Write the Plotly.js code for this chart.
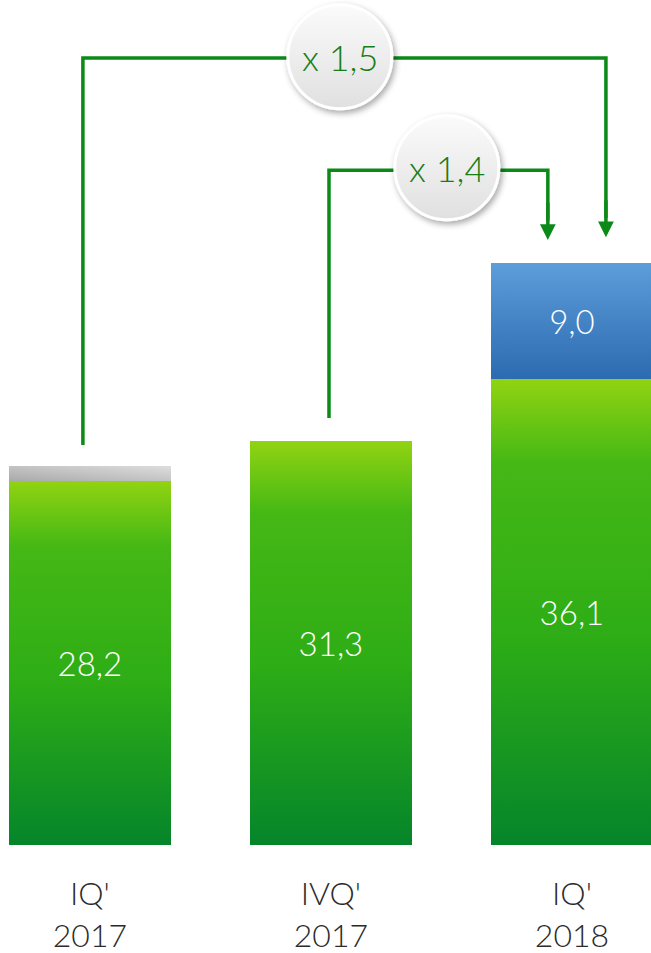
<!DOCTYPE html>
<html>
<head>
<meta charset="utf-8">
<script src="https://cdn.plot.ly/plotly-3.0.1.min.js"></script>
<style>
  html, body { margin: 0; padding: 0; background: #ffffff; }
  #chart { width: 651px; height: 953px; }
</style>
</head>
<body>
<div id="chart"></div>
<script>
// ---------- data ----------
const quarters = ["IQ'", "IVQ'", "IQ'"];
const years = ["2017", "2017", "2018"];
const barIndex = [0, 1, 2];
const baseValues = [28.2, 31.3, 36.1];      // green
const capValues = [1.2, null, null];         // grey cap (unlabelled)
const newValues = [null, null, 9.0];         // blue
const multiplierLabels = ["x 1,5", "x 1,4"];

// ---------- styling / layout ----------
const FONT = "Lato, 'Open Sans', sans-serif";
const LINE_GREEN = "#0b8a18";
const TEXT_GREEN = "#187d16";

const tickText = quarters.map((q, i) => q + "<br>" + years[i]);
const totals = barIndex.map(i => (baseValues[i] || 0) + (capValues[i] || 0) + (newValues[i] || 0));

const data = [
  {
    type: "bar", x: barIndex, y: baseValues, width: 0.672,
    marker: { color: "#34b016", line: { width: 0 } },
    texttemplate: "%{y:.1f}", textposition: "inside", insidetextanchor: "middle",
    textangle: 0, constraintext: "none",
    textfont: { family: FONT, size: 33, color: "#ffffff", weight: 300 },
    hoverinfo: "skip"
  },
  {
    type: "bar", x: barIndex, y: capValues, width: 0.672,
    marker: { color: "#c4c4c4", line: { width: 0 } },
    hoverinfo: "skip"
  },
  {
    type: "bar", x: barIndex, y: newValues, width: 0.672,
    marker: { color: "#4584c6", line: { width: 0 } },
    texttemplate: "%{y:.1f}", textposition: "inside", insidetextanchor: "middle",
    textangle: 0, constraintext: "none",
    textfont: { family: FONT, size: 33, color: "#ffffff", weight: 300 },
    hoverinfo: "skip"
  }
];

// connector geometry (layout positions, relative to bars)
const c1 = { x0: 0 - 0.029, x1: 2 + 0.141, yTop: 61.0, yStart: totals[0] + 1.6, yTip: totals[2] + 2.0 };
const c2 = { x0: 1 - 0.008, x1: 2 - 0.100, yTop: 52.3, yStart: totals[1] + 1.8, yTip: totals[2] + 1.8 };
const bubble1 = { x: 1.037, y: 61.1 };
const bubble2 = { x: 1.481, y: 52.5 };
const R = 52;

function connectorPath(c) {
  return "M" + c.x0 + "," + c.yStart + " L" + c.x0 + "," + c.yTop + " L" + c.x1 + "," + c.yTop + " L" + c.x1 + "," + (c.yTip + 1.5);
}
function bubble(b) {
  return { type: "circle", xref: "x", yref: "y", xsizemode: "pixel", ysizemode: "pixel",
    xanchor: b.x, yanchor: b.y, x0: -R, x1: R, y0: -R, y1: R,
    fillcolor: "#f0f0f0", line: { color: "#ffffff", width: 3 }, layer: "above" };
}
function arrow(c) {
  return { x: c.x1, y: c.yTip, ax: c.x1, ay: c.yTip + 3, xref: "x", yref: "y", axref: "x", ayref: "y",
    text: "", showarrow: true, arrowhead: 2, arrowsize: 0.9, arrowwidth: 3.5, arrowcolor: LINE_GREEN, standoff: 0 };
}
function bubbleText(b, t) {
  return { x: b.x, y: b.y, xref: "x", yref: "y", text: t, showarrow: false,
    font: { family: FONT, size: 36, color: TEXT_GREEN, weight: 300 }, xanchor: "center", yanchor: "middle" };
}

const layout = {
  width: 651, height: 953,
  margin: { l: 0, r: 0, t: 0, b: 108, pad: 0 },
  paper_bgcolor: "#ffffff", plot_bgcolor: "#ffffff",
  barmode: "stack", showlegend: false, hovermode: false,
  separators: ", ",
  xaxis: {
    range: [-0.373, 2.328], tickmode: "array", tickvals: barIndex, ticktext: tickText,
    showgrid: false, zeroline: false, showline: false, ticks: "", fixedrange: true,
    ticklabelstandoff: 27,
    tickfont: { family: FONT, size: 32, color: "#2b2b2b", weight: 300 }
  },
  yaxis: { range: [0, 65.5], visible: false, showgrid: false, zeroline: false, fixedrange: true },
  shapes: [
    { type: "path", xref: "x", yref: "y", path: connectorPath(c1), line: { color: LINE_GREEN, width: 3.5 }, layer: "above" },
    { type: "path", xref: "x", yref: "y", path: connectorPath(c2), line: { color: LINE_GREEN, width: 3.5 }, layer: "above" },
    bubble(bubble1),
    bubble(bubble2)
  ],
  annotations: [arrow(c1), arrow(c2), bubbleText(bubble1, multiplierLabels[0]), bubbleText(bubble2, multiplierLabels[1])]
};

const gd = document.getElementById("chart");
Plotly.newPlot(gd, data, layout, { staticPlot: true, displayModeBar: false }).then(function () {
  const ns = "http://www.w3.org/2000/svg";
  const svg = gd.querySelector(".main-svg");
  let defs = svg.querySelector("defs");
  if (!defs) { defs = document.createElementNS(ns, "defs"); svg.insertBefore(defs, svg.firstChild); }
  function lg(id, x1, y1, x2, y2, stops) {
    const g = document.createElementNS(ns, "linearGradient");
    g.setAttribute("id", id);
    g.setAttribute("x1", x1); g.setAttribute("y1", y1); g.setAttribute("x2", x2); g.setAttribute("y2", y2);
    stops.forEach(s => {
      const st = document.createElementNS(ns, "stop");
      st.setAttribute("offset", s[0]); st.setAttribute("stop-color", s[1]);
      g.appendChild(st);
    });
    defs.appendChild(g);
  }
  lg("gGreen", 0, 0, 0, 1, [[0, "#91d312"], [0.18, "#45b815"], [0.55, "#2ead16"], [1, "#05852a"]]);
  lg("gGrey", 0, 1, 1, 0, [[0, "#a9a9a9"], [1, "#dedede"]]);
  lg("gBlue", 0, 0, 0, 1, [[0, "#5c9dda"], [1, "#2c6bb0"]]);
  lg("gBubble", 0, 0, 0, 1, [[0, "#fbfbfb"], [1, "#e0e0e0"]]);
  const f = document.createElementNS(ns, "filter");
  f.setAttribute("id", "fShadow"); f.setAttribute("x", "-30%"); f.setAttribute("y", "-30%");
  f.setAttribute("width", "160%"); f.setAttribute("height", "160%");
  const ds = document.createElementNS(ns, "feDropShadow");
  ds.setAttribute("dx", "2"); ds.setAttribute("dy", "3"); ds.setAttribute("stdDeviation", "3");
  ds.setAttribute("flood-color", "#000"); ds.setAttribute("flood-opacity", "0.35");
  f.appendChild(ds); defs.appendChild(f);

  const ids = ["gGreen", "gGrey", "gBlue"];
  gd.querySelectorAll(".barlayer .trace").forEach((t, i) => {
    t.querySelectorAll(".point path").forEach(p => { p.style.fill = "url(#" + ids[i] + ")"; });
  });
  gd.querySelectorAll(".shapelayer path").forEach(p => {
    const idx = p.getAttribute("data-index");
    if (idx === "2" || idx === "3") {
      p.style.fill = "url(#gBubble)";
      p.style.fillOpacity = 1;
      p.setAttribute("filter", "url(#fShadow)");
    }
  });
});
</script>
</body>
</html>
